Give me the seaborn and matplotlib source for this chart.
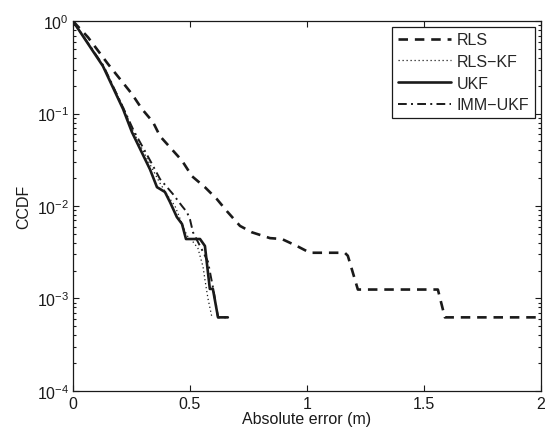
import numpy as np
import pandas as pd
import matplotlib
matplotlib.use("Agg")
import matplotlib.pyplot as plt
import seaborn as sns
from matplotlib.ticker import LogLocator

sns.set_theme(style="ticks")
plt.rcParams['font.family'] = ['Liberation Sans', 'DejaVu Sans']
plt.rcParams['mathtext.fontset'] = 'custom'
plt.rcParams['mathtext.rm'] = 'Liberation Sans'
plt.rcParams['mathtext.it'] = 'Liberation Sans:italic'

# ---- data ----
rls_x = [0, 0.064, 0.15, 0.252, 0.295, 0.342, 0.372, 0.466, 0.509, 0.564,
         0.615, 0.658, 0.714, 0.765, 0.842, 0.893, 0.957, 1.013, 1.162,
         1.175, 1.218, 1.56, 1.59, 2.0]
rls_y = [1, 0.67, 0.343, 0.163, 0.112, 0.081, 0.057, 0.031, 0.021, 0.016,
         0.0119, 0.0088, 0.0061, 0.0052, 0.0045, 0.0044, 0.0037, 0.003125,
         0.003125, 0.0029, 0.00125, 0.00125, 0.000625, 0.000625]

rlskf_x = [0, 0.128, 0.22, 0.26, 0.33, 0.37, 0.406, 0.436, 0.47, 0.487,
           0.513, 0.534, 0.556, 0.564, 0.577, 0.594]
rlskf_y = [1, 0.33, 0.11, 0.062, 0.028, 0.018, 0.0128, 0.0100, 0.0061,
           0.0048, 0.0041, 0.0035, 0.0022, 0.0016, 0.0010, 0.000625]

ukf_x = [0, 0.128, 0.214, 0.252, 0.329, 0.359, 0.372, 0.393, 0.415, 0.444,
         0.466, 0.483, 0.543, 0.564, 0.585, 0.598, 0.62, 0.662]
ukf_y = [1, 0.326, 0.112, 0.063, 0.025, 0.016, 0.0153, 0.0142, 0.011,
         0.0076, 0.0064, 0.0044, 0.0044, 0.0037, 0.00127, 0.00127,
         0.000625, 0.000625]

imm_x = [0, 0.13, 0.215, 0.26, 0.33, 0.372, 0.402, 0.427, 0.466, 0.487,
         0.5, 0.513, 0.543, 0.556, 0.577, 0.594, 0.6, 0.62, 0.654]
imm_y = [1, 0.33, 0.115, 0.065, 0.031, 0.0196, 0.016, 0.0135, 0.010,
         0.0086, 0.0072, 0.0052, 0.0037, 0.0032, 0.0025, 0.0015, 0.00126,
         0.000625, 0.000625]

series_names = ['RLS', 'RLS\u2212KF', 'UKF', 'IMM\u2212UKF']
x_ticks = [0, 0.5, 1, 1.5, 2]
x_tick_labels = ['0', '0.5', '1', '1.5', '2']

FS = 11.5

fig = plt.figure(figsize=(5.49, 4.35), dpi=100)
ax = fig.add_axes([0.133, 0.099, 0.852, 0.850])

styles = [
    dict(lw=1.9, ls=(0, (3.6, 2.6))),
    dict(lw=0.9, ls=(0, (1, 2.2))),
    dict(lw=1.9, ls='-'),
    dict(lw=1.4, ls=(0, (4.5, 2.2, 1, 2.2))),
]
datasets = [(rls_x, rls_y), (rlskf_x, rlskf_y), (ukf_x, ukf_y), (imm_x, imm_y)]

for (xs, ys), name, st in zip(datasets, series_names, styles):
    df = pd.DataFrame({'x': xs, 'y': ys})
    sns.lineplot(data=df, x='x', y='y', ax=ax, color='k', estimator=None,
                 sort=False, label=name, linewidth=st['lw'], linestyle=st['ls'])

ax.set_yscale('log')
ax.set_xlim(0, 2)
ax.set_ylim(1e-4, 1)
ax.set_xticks(x_ticks)
ax.set_xticklabels(x_tick_labels)
ax.yaxis.set_major_locator(LogLocator(base=10, numticks=10))
ax.yaxis.set_minor_locator(LogLocator(base=10, subs=np.arange(2, 10), numticks=20))

ax.tick_params(which='both', direction='in', top=True, right=True,
               labelsize=FS, colors='k', width=0.8)
ax.tick_params(which='major', length=4.5)
ax.tick_params(which='minor', length=2.5)
ax.tick_params(axis='x', which='major', pad=4)
ax.tick_params(axis='y', which='major', pad=3)
ax.tick_params(axis='x', which='minor', bottom=False, top=False)
for sp in ax.spines.values():
    sp.set_visible(True)
    sp.set_color('k')
    sp.set_linewidth(0.9)

ax.set_xlabel('Absolute error (m)', fontsize=FS, color='k', labelpad=0)
ax.set_ylabel('CCDF', fontsize=FS, color='k', labelpad=4)
ax.grid(False)

leg = ax.legend(loc='upper right', fontsize=FS, frameon=True, fancybox=False,
                handlelength=3.3, handletextpad=0.4, borderpad=0.35,
                labelspacing=0.42, borderaxespad=0.35)
leg.get_frame().set_edgecolor('k')
leg.get_frame().set_linewidth(0.9)
leg.get_frame().set_alpha(1)

fig.savefig('out.png', dpi=100)
